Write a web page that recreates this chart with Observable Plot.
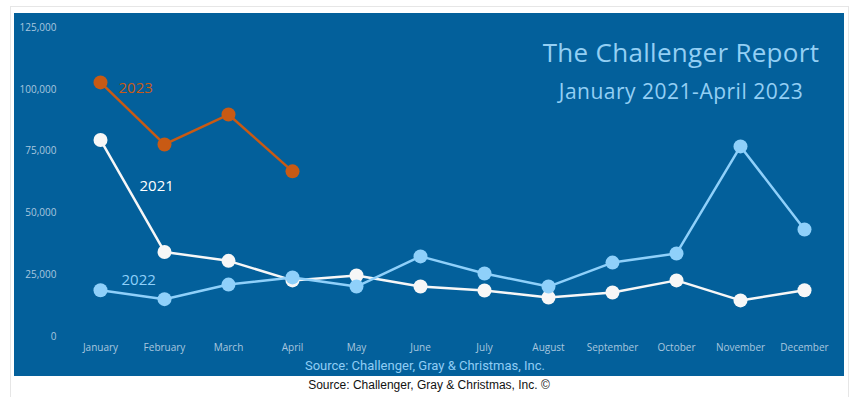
<!DOCTYPE html>
<html>
<head>
<meta charset="utf-8">
<script src="https://cdn.jsdelivr.net/npm/d3@7"></script>
<script src="https://cdn.jsdelivr.net/npm/@observablehq/plot@0.6"></script>
<style>
  body { margin: 0; background: #fff; }
  #wrap { position: relative; width: 857px; height: 397px; overflow: hidden; font-family: "Open Sans", sans-serif; }
  #border { position: absolute; left: 10px; top: 6px; width: 837px; height: 420px; border: 1px solid #e6e6e6; }
  #panel { position: absolute; left: 14px; top: 13px; width: 830px; height: 363px; background: #03609b; }
  #panel svg { position: absolute; left: 0; top: 0; }
  .title { position: absolute; width: 400px; left: 467px; text-align: center; color: #93cff4; font-family: "Open Sans", sans-serif; font-weight: 400; white-space: nowrap; }
  #t1 { top: 21px; font-size: 26px; letter-spacing: 0.3px; }
  #t2 { top: 64px; font-size: 21px; letter-spacing: 0.5px; }
  #src1 { position: absolute; left: 0; width: 822px; top: 345px; text-align: center; color: #8fcdf5; font-family: Roboto, sans-serif; font-size: 13px; white-space: nowrap; }
  #src2 { position: absolute; left: 0; width: 858px; top: 378px; text-align: center; color: #111; font-family: "Liberation Sans", Arial, sans-serif; font-size: 12px; white-space: nowrap; }
</style>
</head>
<body>
<div id="wrap">
  <div id="border"></div>
  <div id="panel">
    <div id="chart"></div>
    <div class="title" id="t1">The Challenger Report</div>
    <div class="title" id="t2">January 2021-April 2023</div>
    <div id="src1">Source: Challenger, Gray &amp; Christmas, Inc.</div>
  </div>
  <div id="src2">Source: Challenger, Gray &amp; Christmas, Inc. ©</div>
</div>
<script>
const months = ["January","February","March","April","May","June","July","August","September","October","November","December"];
const series2021 = [79500, 34200, 30600, 22700, 24700, 20200, 18600, 15800, 17800, 22700, 14600, 18700];
const series2022 = [18700, 15100, 21000, 23900, 20200, 32400, 25500, 20200, 29900, 33600, 76900, 43300];
const series2023 = [102800, 77700, 89800, 66800];
const yTicks = [0, 25000, 50000, 75000, 100000, 125000];

const toRows = (vals, year) => vals.map((v, i) => ({month: months[i], value: v, year}));
const r2021 = toRows(series2021, "2021");
const r2022 = toRows(series2022, "2022");
const r2023 = toRows(series2023, "2023");

const cWhite = "#f7f7f7", cBlue = "#8fd0fa", cOrange = "#c85a14";
const tickColor = "#a9c7df";

const chart = Plot.plot({
  width: 830,
  height: 363,
  marginLeft: 50,
  marginRight: 5,
  marginTop: 14,
  marginBottom: 40,
  style: {background: "transparent", fontFamily: "Open Sans, sans-serif", fontSize: "10px", overflow: "visible"},
  x: {type: "point", domain: months, padding: 0.5, label: null},
  y: {domain: [0, 125000], label: null},
  marks: [
    Plot.axisY({ticks: yTicks, tickSize: 0, tickPadding: 8, tickFormat: d3.format(","), fill: tickColor, label: null}),
    Plot.axisX({tickSize: 0, tickPadding: 7, fill: tickColor, label: null}),
    Plot.line(r2021, {x: "month", y: "value", stroke: cWhite, strokeWidth: 2.5}),
    Plot.dot(r2021, {x: "month", y: "value", r: 7, fill: cWhite}),
    Plot.line(r2022, {x: "month", y: "value", stroke: cBlue, strokeWidth: 2.5}),
    Plot.dot(r2022, {x: "month", y: "value", r: 7, fill: cBlue}),
    Plot.line(r2023, {x: "month", y: "value", stroke: cOrange, strokeWidth: 2.5}),
    Plot.dot(r2023, {x: "month", y: "value", r: 7, fill: cOrange}),
    Plot.text(r2023, Plot.selectFirst({x: "month", y: "value", text: "year", dx: 18, dy: 6, textAnchor: "start", fill: cOrange, fontSize: 15})),
    Plot.text(r2021, Plot.selectFirst({x: "month", y: "value", text: "year", dx: 39, dy: 46, textAnchor: "start", fill: "#ffffff", fontSize: 15})),
    Plot.text(r2022, Plot.selectFirst({x: "month", y: "value", text: "year", dx: 21, dy: -10, textAnchor: "start", fill: cBlue, fontSize: 15}))
  ]
});
document.getElementById("chart").appendChild(chart);
</script>
</body>
</html>
